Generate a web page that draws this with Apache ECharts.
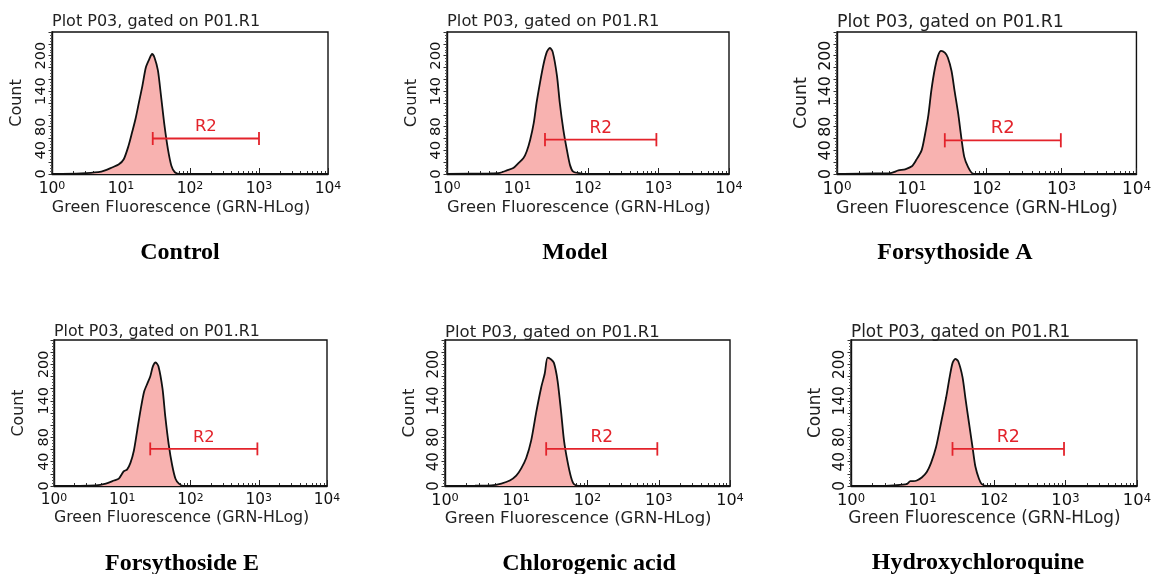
<!DOCTYPE html>
<html><head><meta charset="utf-8">
<script src="https://cdn.jsdelivr.net/npm/echarts@6/dist/echarts.min.js"></script>
<style>html,body{margin:0;padding:0;background:#fff}#c{width:1154px;height:574px}</style>
</head><body><div id="c"></div>
<script>
// ---------- texts ----------
const panelNames = ['Control', 'Model', 'Forsythoside A', 'Forsythoside E', 'Chlorogenic acid', 'Hydroxychloroquine'];
const plotTitle = 'Plot P03, gated on P01.R1';
const xAxisTitle = 'Green Fluorescence (GRN-HLog)';
const yAxisTitle = 'Count';
const gateLabel = 'R2';
// ---------- tick labels ----------
const xTickExponents = [0, 1, 2, 3, 4];          // decades 10^0 .. 10^4
const yTickLabels = [0, 40, 80, 140, 200];
// ---------- histogram values: [log10(fluorescence), count] ----------
const controlCurve = [[0,0],[0.42,1],[0.67,3],[0.77,6],[0.87,11],[0.965,16],[1.04,25],[1.11,48],[1.16,70],[1.21,93],[1.26,121],[1.31,149],[1.36,180],[1.41,194],[1.45,203],[1.485,197],[1.535,175],[1.58,132],[1.63,82],[1.68,42],[1.73,14],[1.78,3],[1.86,0],[4,0]];
const modelCurve = [[0,0],[0.61,1],[0.75,2],[0.85,6],[0.94,10],[1.01,18],[1.085,27],[1.13,38],[1.18,58],[1.23,86],[1.27,120],[1.32,155],[1.37,186],[1.415,206],[1.46,213],[1.5,206],[1.56,166],[1.6,120],[1.65,75],[1.7,41],[1.745,15],[1.79,4],[1.89,1],[1.98,0],[4,0]];
const forsythosideACurve = [[0,0],[0.51,1],[0.64,1],[0.73,2],[0.82,6],[0.91,8],[1.0,13],[1.06,24],[1.13,40],[1.17,63],[1.22,99],[1.26,141],[1.31,180],[1.35,200],[1.39,208],[1.44,205],[1.48,197],[1.53,174],[1.57,141],[1.62,101],[1.66,62],[1.7,29],[1.75,12],[1.81,1],[1.88,0],[4,0]];
const forsythosideECurve = [[0,0],[0.61,1],[0.76,4],[0.88,9],[0.95,12],[1.02,24],[1.07,27],[1.12,38],[1.17,58],[1.22,92],[1.27,126],[1.32,155],[1.37,169],[1.41,180],[1.45,197],[1.49,203],[1.53,197],[1.59,160],[1.63,115],[1.68,69],[1.73,35],[1.78,12],[1.83,4],[1.9,0],[4,0]];
const chlorogenicAcidCurve = [[0,0],[0.42,0.5],[0.65,1],[0.79,4],[0.91,9],[1.0,17],[1.07,29],[1.14,46],[1.21,75],[1.28,121],[1.35,162],[1.4,185],[1.44,211],[1.49,208],[1.53,202],[1.58,173],[1.63,121],[1.67,75],[1.72,40],[1.77,14],[1.81,3],[1.88,0],[4,0]];
const hydroxychloroquineCurve = [[0,0],[0.41,0],[0.6,1],[0.78,3],[0.83,8],[0.87,8],[0.92,9],[0.99,14],[1.06,23],[1.12,38],[1.19,64],[1.26,104],[1.33,145],[1.38,179],[1.42,202],[1.46,209],[1.5,205],[1.56,179],[1.6,145],[1.65,104],[1.7,64],[1.74,32],[1.79,12],[1.83,3],[1.9,0],[4,0]];
// ---------- R2 gates: [start log10, end log10, count level] ----------
const controlGate = [1.46, 3.0, 60];
const modelGate = [1.39, 2.97, 58];
const forsythosideAGate = [1.44, 2.99, 57];
const forsythosideEGate = [1.41, 2.98, 61];
const chlorogenicAcidGate = [1.42, 2.98, 61];
const hydroxychloroquineGate = [1.42, 2.98, 61];

const curves = [controlCurve, modelCurve, forsythosideACurve, forsythosideECurve, chlorogenicAcidCurve, hydroxychloroquineCurve];
const gates = [controlGate, modelGate, forsythosideAGate, forsythosideEGate, chlorogenicAcidGate, hydroxychloroquineGate];

// ---------- layout ----------
const boxes = [
  {l: 52, r: 328, t: 32, b: 174, cx: 180, cy: 253},
  {l: 447, r: 729, t: 32, b: 174, cx: 575, cy: 253},
  {l: 837, r: 1138, t: 32, b: 174, cx: 955, cy: 253},
  {l: 54, r: 327, t: 340, b: 486, cx: 182, cy: 564},
  {l: 445, r: 730, t: 340, b: 486, cx: 589, cy: 564},
  {l: 851, r: 1142, t: 340, b: 486, cx: 978, cy: 563}
];
const minorTickValues = [];
for (let d = 0; d < 4; d++) for (let k = 2; k <= 9; k++) minorTickValues.push(d + Math.log10(k));

const FONT = 'DejaVu Sans';
const RED = '#e3232b';
const grids = [], xAxes = [], yAxes = [], series = [], titles = [], graphics = [];

boxes.forEach((b, i) => {
  const s = (b.r - b.l) / 276;
  grids.push({left: b.l, top: b.t, width: b.r - b.l, height: b.b - b.t, show: true, borderColor: '#111', borderWidth: 1.4, backgroundColor: '#fff'});
  xAxes.push({
    gridIndex: i, type: 'value', min: 0, max: 4, interval: 1, position: 'bottom',
    axisLine: {show: true, onZero: false, lineStyle: {color: '#111', width: 1.4}},
    axisTick: {show: true, inside: true, length: 6, lineStyle: {color: '#222', width: 1}},
    splitLine: {show: false},
    axisLabel: {
      margin: 7, color: '#111',
      formatter: v => '{b|10}{s|' + v + '}',
      rich: {b: {fontFamily: FONT, fontSize: 15.5 * s, color: '#111'}, s: {fontFamily: FONT, fontSize: 11 * s, color: '#111', verticalAlign: 'top'}}
    },
    name: xAxisTitle, nameLocation: 'middle', nameGap: i < 3 ? 26 : 24,
    nameTextStyle: {fontFamily: FONT, fontSize: 16 * s, color: '#222', padding: [0, 18 * s, 0, 0]}
  });
  yAxes.push({
    gridIndex: i, type: 'value', min: 0, max: 240, interval: 20,
    axisLine: {show: true, onZero: false, lineStyle: {color: '#111', width: 1.4}},
    axisTick: {show: true, length: 3.5, lineStyle: {color: '#333', width: 1}},
    minorTick: {show: true, splitNumber: 4, length: 2, lineStyle: {color: '#555'}},
    splitLine: {show: false}, minorSplitLine: {show: false},
    axisLabel: {customValues: yTickLabels, rotate: 90, margin: 3, fontFamily: FONT, fontSize: 14.5 * s, color: '#111'},
    name: yAxisTitle, nameLocation: 'middle', nameGap: 27, nameRotate: 90,
    nameTextStyle: {fontFamily: FONT, fontSize: 16 * s, color: '#222'}
  });
  series.push({
    type: 'line', xAxisIndex: i, yAxisIndex: i, data: curves[i], smooth: 0.25,
    symbol: 'none', lineStyle: {color: '#111', width: 1.8},
    areaStyle: {color: '#f8b2b0', opacity: 1}, z: 2
  });
  series.push({
    type: 'custom', xAxisIndex: i, yAxisIndex: i, data: [gates[i]], z: 3,
    renderItem: (params, api) => {
      const p1 = api.coord([api.value(0), api.value(2)]);
      const p2 = api.coord([api.value(1), api.value(2)]);
      const cap = 6.5 * s;
      const ls = {stroke: RED, lineWidth: 1.8};
      return {type: 'group', children: [
        {type: 'line', shape: {x1: p1[0], y1: p1[1], x2: p2[0], y2: p2[1]}, style: ls},
        {type: 'line', shape: {x1: p1[0], y1: p1[1] - cap, x2: p1[0], y2: p1[1] + cap}, style: ls},
        {type: 'line', shape: {x1: p2[0], y1: p2[1] - cap, x2: p2[0], y2: p2[1] + cap}, style: ls},
        {type: 'text', style: {text: gateLabel, x: (p1[0] + p2[0]) / 2, y: p1[1] - 3, align: 'center', verticalAlign: 'bottom', textAlign: 'center', textVerticalAlign: 'bottom', fill: RED, font: (16.5 * s).toFixed(1) + 'px "DejaVu Sans"'}}
      ]};
    }
  });
  titles.push({text: plotTitle, left: b.l, top: i < 3 ? 14 : 324, padding: 0,
    textStyle: {fontFamily: FONT, fontSize: 16 * s, fontWeight: 'normal', color: '#222'}});
  graphics.push({type: 'text', x: b.cx, y: b.cy, style: {text: panelNames[i], align: 'center', verticalAlign: 'middle', textAlign: 'center', textVerticalAlign: 'middle', fill: '#000', font: 'bold 24px "Liberation Serif"'}});
});
// overlaid minor x ticks (log-spaced)
boxes.forEach((b, i) => {
  xAxes.push({
    gridIndex: i, type: 'value', min: 0, max: 4, position: 'bottom',
    axisLine: {show: false}, axisLabel: {show: false}, splitLine: {show: false},
    axisTick: {show: true, inside: true, length: 3, customValues: minorTickValues, lineStyle: {color: '#333', width: 1}}
  });
});

const chart = echarts.init(document.getElementById('c'), null, {renderer: 'canvas'});
chart.setOption({
  animation: false, backgroundColor: '#fff',
  title: titles, grid: grids, xAxis: xAxes, yAxis: yAxes, series: series, graphic: graphics
});
</script></body></html>
